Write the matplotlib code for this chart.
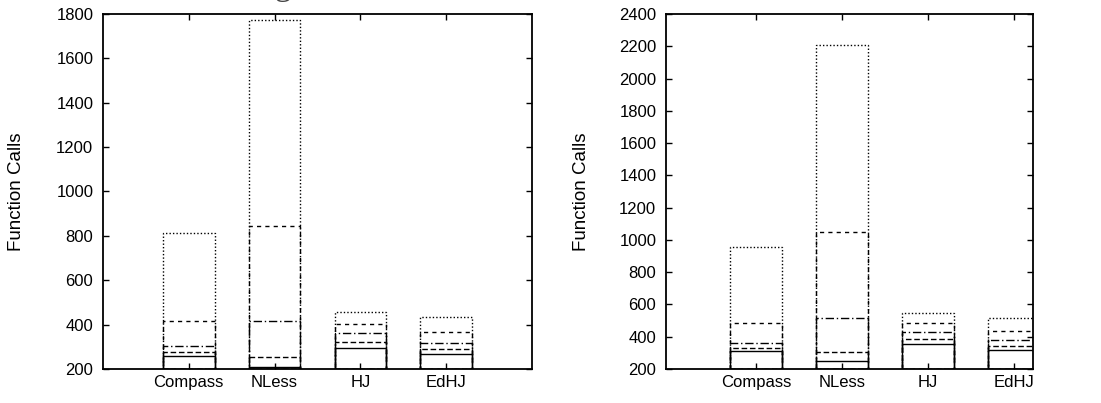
import numpy as np
import matplotlib.pyplot as plt

plt.rcParams['font.family'] = ['Liberation Sans', 'DejaVu Sans']

methods = ['Compass', 'NLess', 'HJ', 'EdHJ']

# function-call counts per method, one list per run level (lowest to highest)
left_level1 = [258, 209, 293, 266]
left_level2 = [275, 254, 323, 289]
left_level3 = [305, 418, 361, 319]
left_level4 = [416, 846, 403, 368]
left_level5 = [811, 1773, 455, 433]

right_level1 = [309, 251, 353, 318]
right_level2 = [330, 303, 386, 341]
right_level3 = [363, 516, 431, 378]
right_level4 = [487, 1047, 483, 437]
right_level5 = [958, 2205, 545, 514]

left_ticks = np.arange(200, 1801, 200)
right_ticks = np.arange(200, 2401, 200)

line_styles = ['-', (0, (4, 2)), (0, (6, 2, 1, 2)), (0, (3, 3)), (0, (1, 1.5))]


def draw_panel(ax, levels, ticks, xlim):
    x = np.arange(len(methods))
    for vals, ls in zip(levels, line_styles):
        vals = np.asarray(vals)
        ax.bar(x, vals - 200, bottom=200, width=0.6, fill=False,
               edgecolor='black', linestyle=ls, linewidth=1.0)
    ax.set_xlim(*xlim)
    ax.set_ylim(ticks[0], ticks[-1])
    ax.set_yticks(ticks)
    ax.set_xticks(x)
    ax.set_xticklabels(methods)
    ax.tick_params(direction='in', length=4, width=1, top=True, right=True,
                   labelsize=12)
    ax.tick_params(axis='y', pad=7)
    ax.tick_params(axis='x', pad=4)
    for sp in ax.spines.values():
        sp.set_linewidth(1.3)
    ax.set_ylabel('Function Calls', fontsize=13.5)


fig = plt.figure(figsize=(11.01, 4.03), dpi=100)
ax1 = fig.add_axes([103 / 1101, 1 - 369 / 403, 429 / 1101, 355 / 403])
ax2 = fig.add_axes([666 / 1101, 1 - 369 / 403, 367 / 1101, 355 / 403])

draw_panel(ax1, [left_level1, left_level2, left_level3, left_level4, left_level5],
           left_ticks, (-1, 4))
draw_panel(ax2, [right_level1, right_level2, right_level3, right_level4, right_level5],
           right_ticks, (-1.047, 3.22))

ax1.yaxis.set_label_coords(-0.182, 0.5)
ax2.yaxis.set_label_coords(-0.207, 0.5)

# title line sits just above the page edge
fig.text(283 / 1101, 1 + 4.5 / 403, 'g', family='Liberation Serif', fontsize=24,
         ha='center', va='baseline', color='#444444')

fig.savefig('out.png', dpi=100)
